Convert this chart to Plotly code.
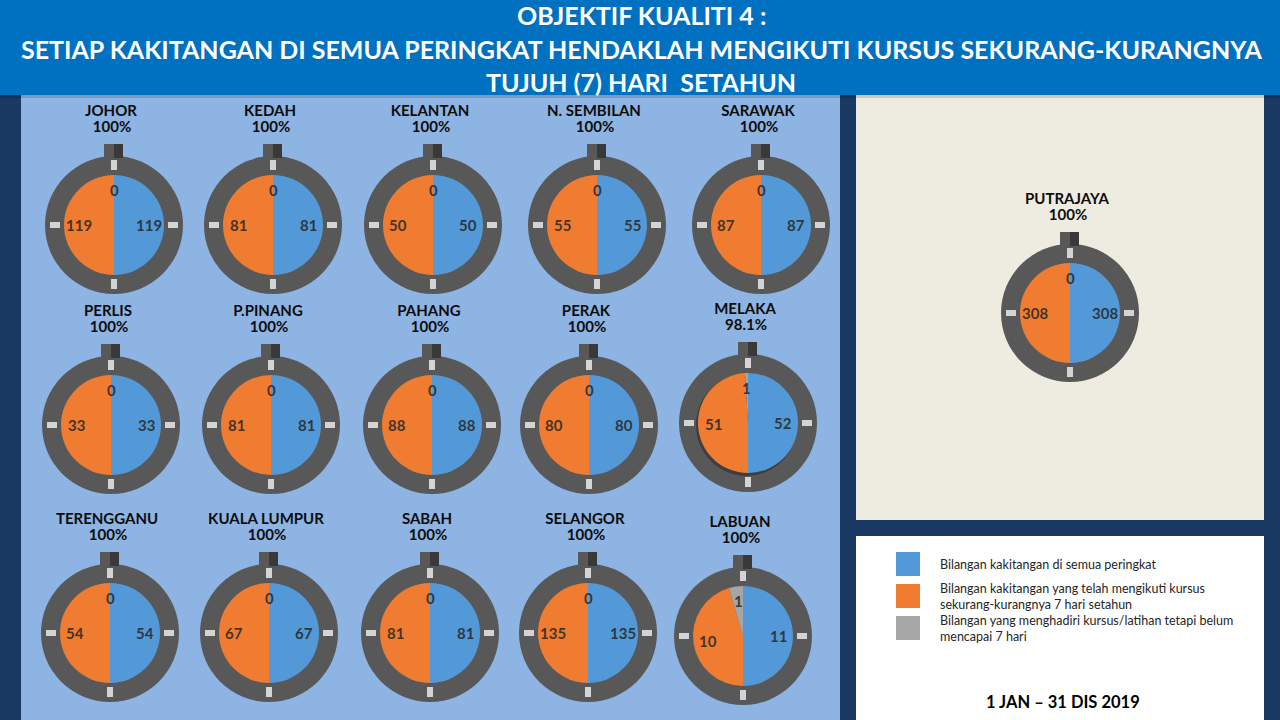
import math
import plotly.graph_objects as go

regions = ["JOHOR", "KEDAH", "KELANTAN", "N. SEMBILAN", "SARAWAK",
           "PERLIS", "P.PINANG", "PAHANG", "PERAK", "MELAKA",
           "TERENGGANU", "KUALA LUMPUR", "SABAH", "SELANGOR", "LABUAN",
           "PUTRAJAYA"]
staff_all = [119, 81, 50, 55, 87, 33, 81, 88, 80, 52, 54, 67, 81, 135, 11, 308]
staff_7days = [119, 81, 50, 55, 87, 33, 81, 88, 80, 51, 54, 67, 81, 135, 10, 308]
staff_below = [0, 0, 0, 0, 0, 0, 0, 0, 0, 1, 0, 0, 0, 0, 1, 0]
pct_labels = ["100%", "100%", "100%", "100%", "100%",
              "100%", "100%", "100%", "100%", "98.1%",
              "100%", "100%", "100%", "100%", "100%",
              "100%"]
legend_labels = ["Bilangan kakitangan di semua peringkat",
                 "Bilangan kakitangan yang telah mengikuti kursus<br>sekurang-kurangnya 7 hari setahun",
                 "Bilangan yang menghadiri kursus/latihan tetapi belum<br>mencapai 7 hari"]
title_lines = ["OBJEKTIF KUALITI 4 :",
               "SETIAP KAKITANGAN DI SEMUA PERINGKAT HENDAKLAH MENGIKUTI KURSUS SEKURANG-KURANGNYA",
               "TUJUH (7) HARI  SETAHUN"]
period = "1 JAN \u2013 31 DIS 2019"

# gauge centres in pixels (layout only)
centres = [(114, 225), (273, 225), (433, 225), (597, 225), (761, 225),
           (111, 425), (271, 425), (432, 425), (589, 425), (748, 423),
           (110, 633), (269, 633), (430, 633), (588, 633), (743, 636),
           (1070, 313)]

W, H = 1280, 720
NAVY = "#1b3a63"
BLUE = "#5399d7"
ORANGE = "#ef7c30"
GREY = "#a6a6a6"
RING = "#585858"
R_PIE = 50
R_RING = 69

fig = go.Figure()
shapes = []
annotations = []

# panels
shapes.append(dict(type="rect", x0=0, x1=W, y0=0, y1=95, fillcolor="#0070c0", line_width=0, layer="below"))
shapes.append(dict(type="rect", x0=21, x1=840, y0=95, y1=H, fillcolor="#8db4e2", line_width=0, layer="below"))
shapes.append(dict(type="rect", x0=856, x1=1264, y0=95, y1=520, fillcolor="#eeebe1", line_width=0, layer="below"))
shapes.append(dict(type="rect", x0=856, x1=1264, y0=536, y1=H, fillcolor="white", line_width=0, layer="below"))
shapes.append(dict(type="rect", x0=0, x1=W, y0=95, y1=98, fillcolor="rgba(0,0,0,0.15)", line_width=0, layer="below"))

for i, name in enumerate(regions):
    cx, cy = centres[i]
    # ring
    shapes.append(dict(type="circle", x0=cx - R_RING, x1=cx + R_RING, y0=cy - R_RING, y1=cy + R_RING,
                       fillcolor=RING, line_width=0, layer="below"))
    if name == "MELAKA":
        # soft shadow under the lifted pie
        shapes.append(dict(type="circle", x0=cx - R_PIE - 2, x1=cx + R_PIE - 1, y0=cy - R_PIE + 1, y1=cy + R_PIE + 3,
                           fillcolor="rgba(30,30,30,0.45)", line_width=0, layer="below"))
    # knob
    shapes.append(dict(type="rect", x0=cx - 10, x1=cx, y0=cy - 81, y1=cy - 66, fillcolor=RING, line_width=0, layer="below"))
    shapes.append(dict(type="rect", x0=cx, x1=cx + 9, y0=cy - 81, y1=cy - 67, fillcolor="#393939", line_width=0, layer="below"))
    # tick marks on ring
    for dx, dy, w, h in [(0, -60, 6, 10), (0, 59, 6, 10), (-59, 0, 10, 6), (59, 0, 10, 6)]:
        shapes.append(dict(type="rect", x0=cx + dx - w / 2, x1=cx + dx + w / 2, y0=cy + dy - h / 2, y1=cy + dy + h / 2,
                           fillcolor="#d4d4d4", line_width=0, layer="above"))

    vals = [staff_all[i], staff_7days[i], staff_below[i]]
    fig.add_trace(go.Pie(
        values=vals,
        labels=["Bilangan kakitangan di semua peringkat",
                "Bilangan kakitangan yang telah mengikuti kursus sekurang-kurangnya 7 hari setahun",
                "Bilangan yang menghadiri kursus/latihan tetapi belum mencapai 7 hari"],
        sort=False, direction="clockwise", rotation=0,
        marker=dict(colors=[BLUE, ORANGE, GREY], line=dict(width=0)),
        textinfo="none", hoverinfo="label+value", showlegend=False,
        domain=dict(x=[(cx - R_PIE) / W, (cx + R_PIE) / W],
                    y=[1 - (cy + R_PIE) / H, 1 - (cy - R_PIE) / H]),
    ))

    # slice value labels at mid-angle of each slice
    total = sum(vals)
    start = 0
    for v in vals:
        mid = (start + v / 2) / total * 2 * math.pi
        start += v
        d = 35
        annotations.append(dict(x=cx + d * math.sin(mid), y=cy - d * math.cos(mid), xref="x", yref="y",
                                text=str(v), showarrow=False,
                                font=dict(family="Lato", size=15, color="rgba(38,38,38,0.85)", weight="bold")))

# region names and percentages
fig.add_trace(go.Scatter(
    x=[c[0] - 3 for c in centres], y=[c[1] - 113 for c in centres],
    mode="text", text=regions, hoverinfo="skip", showlegend=False,
    textfont=dict(family="Lato", size=15, color="#0d0d0d", weight="bold")))
fig.add_trace(go.Scatter(
    x=[c[0] - 2 for c in centres], y=[c[1] - 97 for c in centres],
    mode="text", text=pct_labels, hoverinfo="skip", showlegend=False,
    textfont=dict(family="Lato", size=15, color="#0d0d0d", weight="bold")))

# header
for line, y in zip(title_lines, [15, 49, 82]):
    annotations.append(dict(x=641, y=y, xref="x", yref="y", text=line, showarrow=False,
                            font=dict(family="Lato", size=25, color="white", weight="bold")))

# legend box
for colour, label, y in zip([BLUE, ORANGE, GREY], legend_labels, [564, 596, 628]):
    shapes.append(dict(type="rect", x0=896, x1=920, y0=y - 12, y1=y + 12, fillcolor=colour, line_width=0, layer="above"))
    annotations.append(dict(x=938, y=y, xref="x", yref="y", text=label, showarrow=False,
                            xanchor="left", yanchor="middle", align="left",
                            font=dict(family="Lato", size=12.5, color="#262626")))

annotations.append(dict(x=1063, y=702, xref="x", yref="y", text=period, showarrow=False,
                        font=dict(family="Lato", size=16.5, color="black", weight="bold")))

fig.update_layout(
    width=W, height=H,
    margin=dict(l=0, r=0, t=0, b=0),
    paper_bgcolor=NAVY, plot_bgcolor=NAVY,
    xaxis=dict(range=[0, W], visible=False, fixedrange=True),
    yaxis=dict(range=[H, 0], visible=False, fixedrange=True),
    shapes=shapes, annotations=annotations,
    showlegend=False,
)

fig.write_html("out.html", config={"displayModeBar": False},
               post_script="document.body.style.margin='0';")
